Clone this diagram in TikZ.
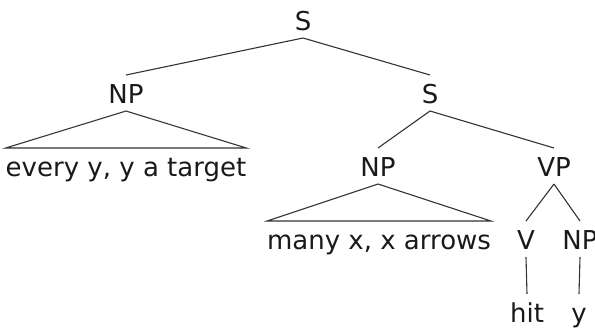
\documentclass[tikz,border=0pt]{standalone}
\usepackage{fontspec}
\setmainfont{DejaVu Sans}
\begin{document}
\begin{tikzpicture}[x=1pt,y=-1pt,
  lbl/.style={anchor=base,inner sep=0pt,outer xsep=0pt,outer ysep=8pt,
    text height=20pt,text depth=0pt,text=black!90,font=\fontsize{26}{30}\selectfont},
  edge/.style={draw=black!80,line width=1.1pt}]
\useasboundingbox (0,0) rectangle (595,327);
\node[lbl] (s1) at (303,30) {S};
\node[lbl] (np1) at (126,103) {NP};
\node[lbl] (s2) at (430,103) {S};
\node[lbl] (t1) at (126,176) {every y, y a target};
\node[lbl] (np2) at (378,176) {NP};
\node[lbl] (vp) at (554,176) {VP};
\node[lbl] (t2) at (379,249) {many x, x arrows};
\node[lbl] (v) at (526,249) {V};
\node[lbl] (np3) at (580,249) {NP};
\node[lbl] (hit) at (527,322) {hit};
\node[lbl] (y) at (579,322) {y};
\draw[edge] (s1.south) -- (np1.north);
\draw[edge] (s1.south) -- (s2.north);
\draw[edge] (s2.south) -- (np2.north);
\draw[edge] (s2.south) -- (vp.north);
\draw[edge] (vp.south) -- (v.north);
\draw[edge] (vp.south) -- (np3.north);
\draw[edge] (v.south) -- (hit.north);
\draw[edge] (np3.south) -- (y.north);
\draw[edge] (np1.south) -- (t1.north east) -- (t1.north west) -- cycle;
\draw[edge] (np2.south) -- (t2.north east) -- (t2.north west) -- cycle;
\end{tikzpicture}
\end{document}
